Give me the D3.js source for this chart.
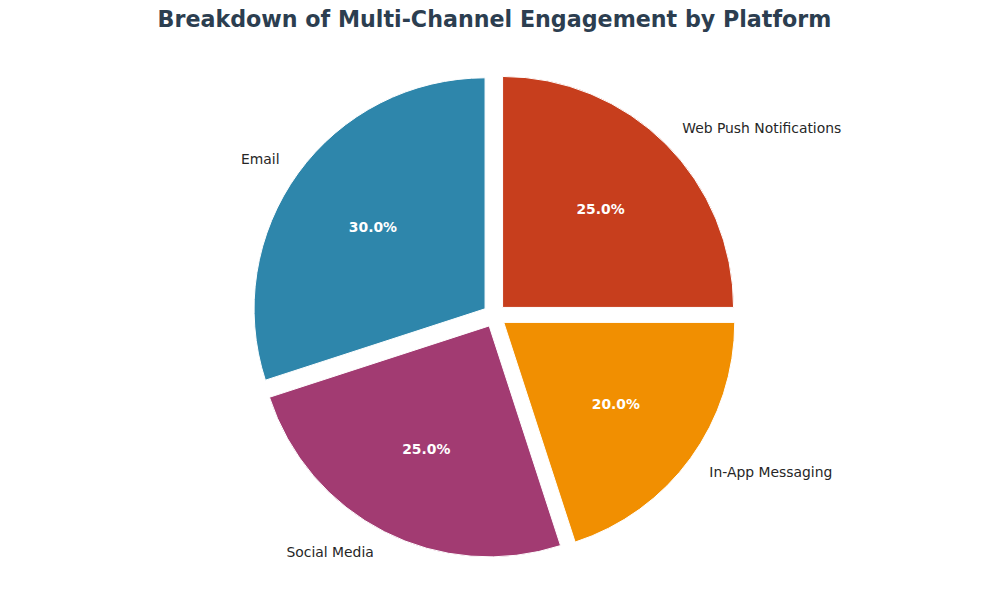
<!DOCTYPE html>
<html><head><meta charset="utf-8">
<script src="https://cdn.jsdelivr.net/npm/d3@7"></script>
<style>body{margin:0;background:#fff;}svg{display:block;font-family:"DejaVu Sans",sans-serif;}</style>
</head><body><svg id="c" width="989" height="590"></svg>
<script>
const categories = ["Email", "Social Media", "In-App Messaging", "Web Push Notifications"];
const values = [30, 25, 20, 25];
const colors = ["#2E86AB", "#A23B72", "#F18F01", "#C73E1D"];
const title = "Breakdown of Multi-Channel Engagement by Platform";

const W = 989, H = 590;
const cx = 494.4, cy = 315.6, r = 231, explode = 0.05;
const svg = d3.select("#c");

svg.append("text").attr("x", W/2).attr("y", 27).attr("text-anchor", "middle")
  .attr("font-size", 22.2).attr("font-weight", "bold").attr("fill", "#2c3e50").text(title);

// matplotlib-style: start at 90deg, counterclockwise. d3 angles are clockwise from 12 o'clock,
// so counterclockwise = negative angles.
const data = categories.map((c, i) => ({cat: c, v: values[i], col: colors[i]}));
const pie = d3.pie().value(d => d.v).sort(null).startAngle(0).endAngle(-2*Math.PI);
const arcs = pie(data);
const arc = d3.arc().innerRadius(0).outerRadius(r);
const g = svg.append("g").attr("transform", `translate(${cx},${cy})`);

arcs.forEach(a => {
  const mid = (a.startAngle + a.endAngle) / 2;
  const dx = Math.sin(mid), dy = -Math.cos(mid);
  const off = explode * r;
  const wg = g.append("g").attr("transform", `translate(${dx*off},${dy*off})`);
  wg.append("path").attr("d", arc(a)).attr("fill", a.data.col).attr("stroke", "#fff").attr("stroke-width", 1);
  wg.append("text").attr("x", dx*0.6*r).attr("y", dy*0.6*r).attr("dy", "0.35em")
    .attr("text-anchor", "middle").attr("font-size", 13.9).attr("font-weight", "bold").attr("fill", "#fff")
    .text((a.data.v / d3.sum(values) * 100).toFixed(1) + "%");
  wg.append("text").attr("x", dx*1.1*r).attr("y", dy*1.1*r).attr("dy", "0.35em")
    .attr("text-anchor", dx < 0 ? "end" : "start").attr("font-size", 13.9).attr("fill", "#262626")
    .text(a.data.cat);
});
</script></body></html>
